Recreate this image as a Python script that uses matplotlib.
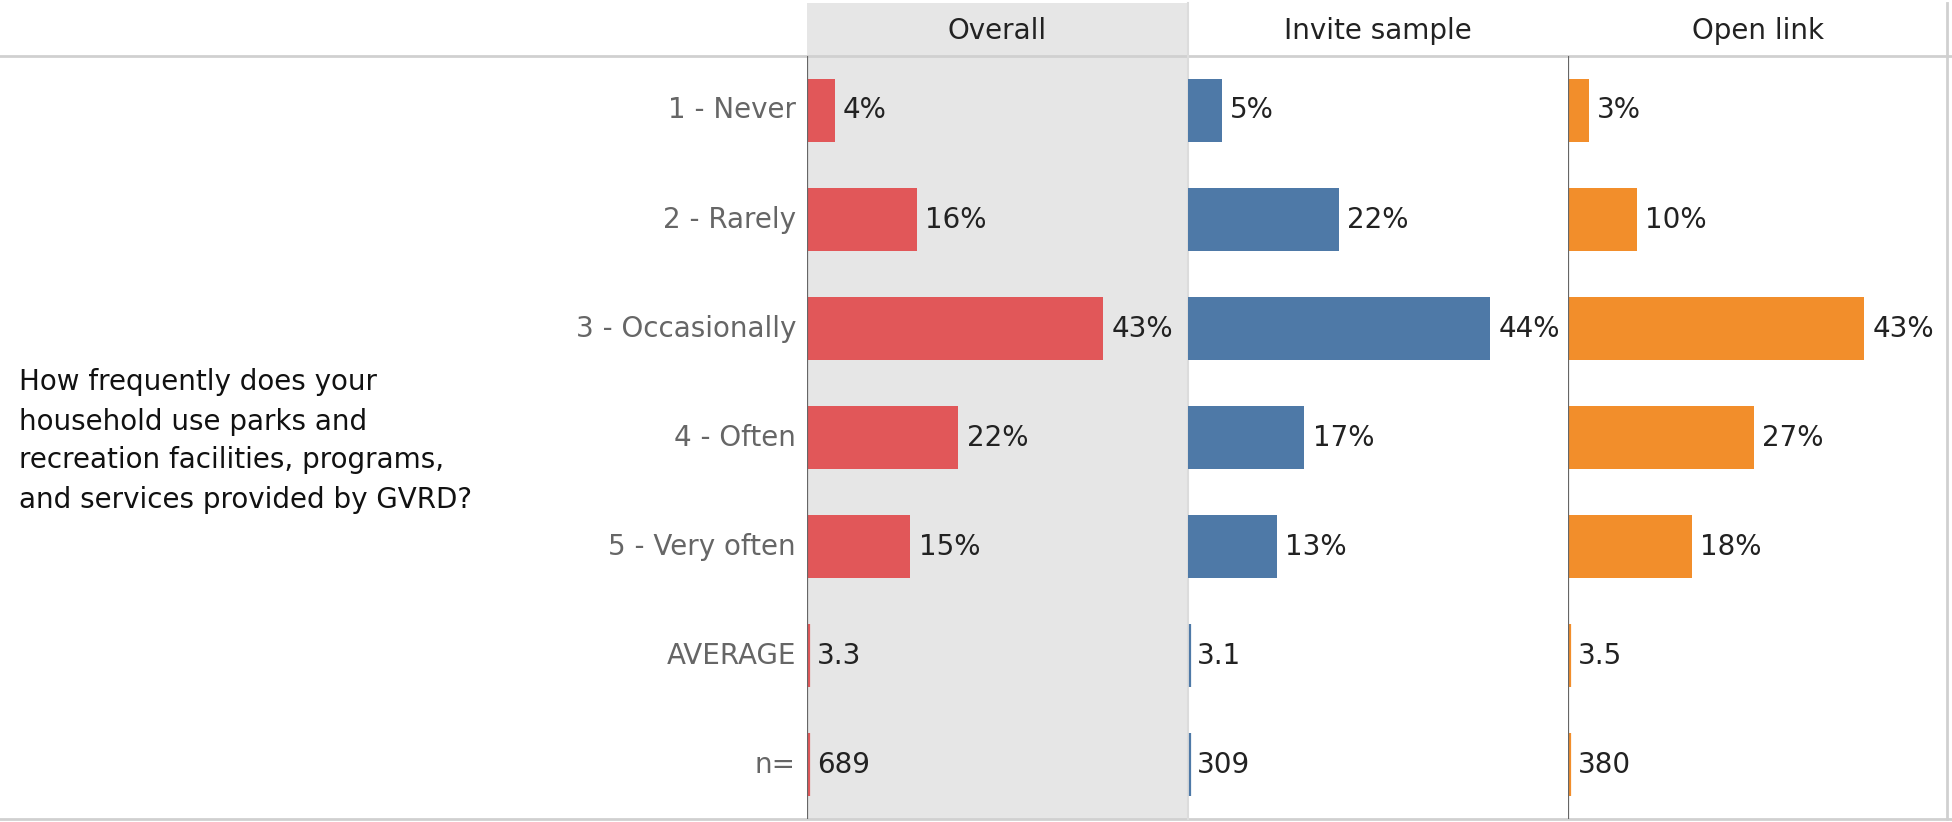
import matplotlib.pyplot as plt
from matplotlib.patches import Rectangle

plt.rcParams['font.family'] = ['DejaVu Sans']

question = "How frequently does your\nhousehold use parks and\nrecreation facilities, programs,\nand services provided by GVRD?"
categories = ["1 - Never", "2 - Rarely", "3 - Occasionally", "4 - Often", "5 - Very often"]
panels = ["Overall", "Invite sample", "Open link"]
colors = ["#e15759", "#4e79a7", "#f28e2b"]

overall = [4, 16, 43, 22, 15]
invite = [5, 22, 44, 17, 13]
open_link = [3, 10, 43, 27, 18]
averages = [3.3, 3.1, 3.5]
counts = [689, 309, 380]

W, H = 1952, 822
fig = plt.figure(figsize=(W / 100, H / 100), dpi=100)

top = 56
bottom = 819
left0 = 807
pw = 380.5
xmax = 55.3
fs = 20

row_labels = categories + ["AVERAGE", "n="]
nrows = len(row_labels)

# grey band behind the Overall column
fig.patches.append(Rectangle((left0 / W, 1 - bottom / H), pw / W, (bottom - 3) / H,
                             transform=fig.transFigure, facecolor="#e6e6e6",
                             edgecolor="none", zorder=-5))

# header and frame rules
line = dict(color="#d0d0d0", lw=2, transform=fig.transFigure, zorder=-1)
fig.add_artist(plt.Line2D([0, 1], [1 - top / H, 1 - top / H], **line))
fig.add_artist(plt.Line2D([0, 1], [1 - bottom / H, 1 - bottom / H], **line))
fig.add_artist(plt.Line2D([(left0 + 3 * pw - 2) / W] * 2, [1 - bottom / H, 1 - 3 / H], **line))
fig.add_artist(plt.Line2D([(left0 + pw) / W] * 2, [1 - bottom / H, 1 - 3 / H],
                          color="#dcdcdc", lw=1.5, transform=fig.transFigure, zorder=-1))

series = [overall, invite, open_link]
for i, (name, vals, c) in enumerate(zip(panels, series, colors)):
    x0 = left0 + i * pw
    ax = fig.add_axes([x0 / W, 1 - bottom / H, pw / W, (bottom - top) / H])
    ax.patch.set_alpha(0)
    ax.set_xlim(0, xmax)
    ax.set_ylim(nrows - 0.5, -0.5)
    ys = list(range(len(vals)))
    ax.barh(ys, vals, height=0.57, color=c, zorder=2)
    for y, v in zip(ys, vals):
        ax.annotate(f"{v}%", (v, y), xytext=(6, 0), textcoords="offset points",
                    va="center", ha="left", fontsize=fs, color="#222")
    # thin marker lines on the summary rows
    for y, txt in [(5, f"{averages[i]:.1f}"), (6, f"{counts[i]}")]:
        ax.plot([0.3, 0.3], [y - 0.285, y + 0.285], color=c, lw=1.6, zorder=3,
                solid_capstyle="butt")
        ax.annotate(txt, (0, y), xytext=(7, 0), textcoords="offset points",
                    va="center", ha="left", fontsize=fs, color="#222")
    ax.set_xticks([])
    ax.set_yticks([])
    for s in ax.spines.values():
        s.set_visible(False)
    if i != 1:
        ax.axvline(0, color="#666666", lw=1.6, zorder=4)
    fig.text((x0 + pw / 2) / W, 1 - 31 / H, name, ha="center", va="center",
             fontsize=fs, color="#222")

# row labels
lab_ax = fig.axes[0]
for y, lab in enumerate(row_labels):
    lab_ax.annotate(lab, (0, y), xycoords=lab_ax.get_yaxis_transform(),
                    xytext=(-8, 0), textcoords="offset points",
                    ha="right", va="center", fontsize=fs, color="#666666")

fig.text(19 / W, 1 - 441 / H, question, ha="left", va="center", fontsize=fs,
         color="#111", linespacing=1.5)

fig.savefig("out.png", dpi=100, facecolor="white")
